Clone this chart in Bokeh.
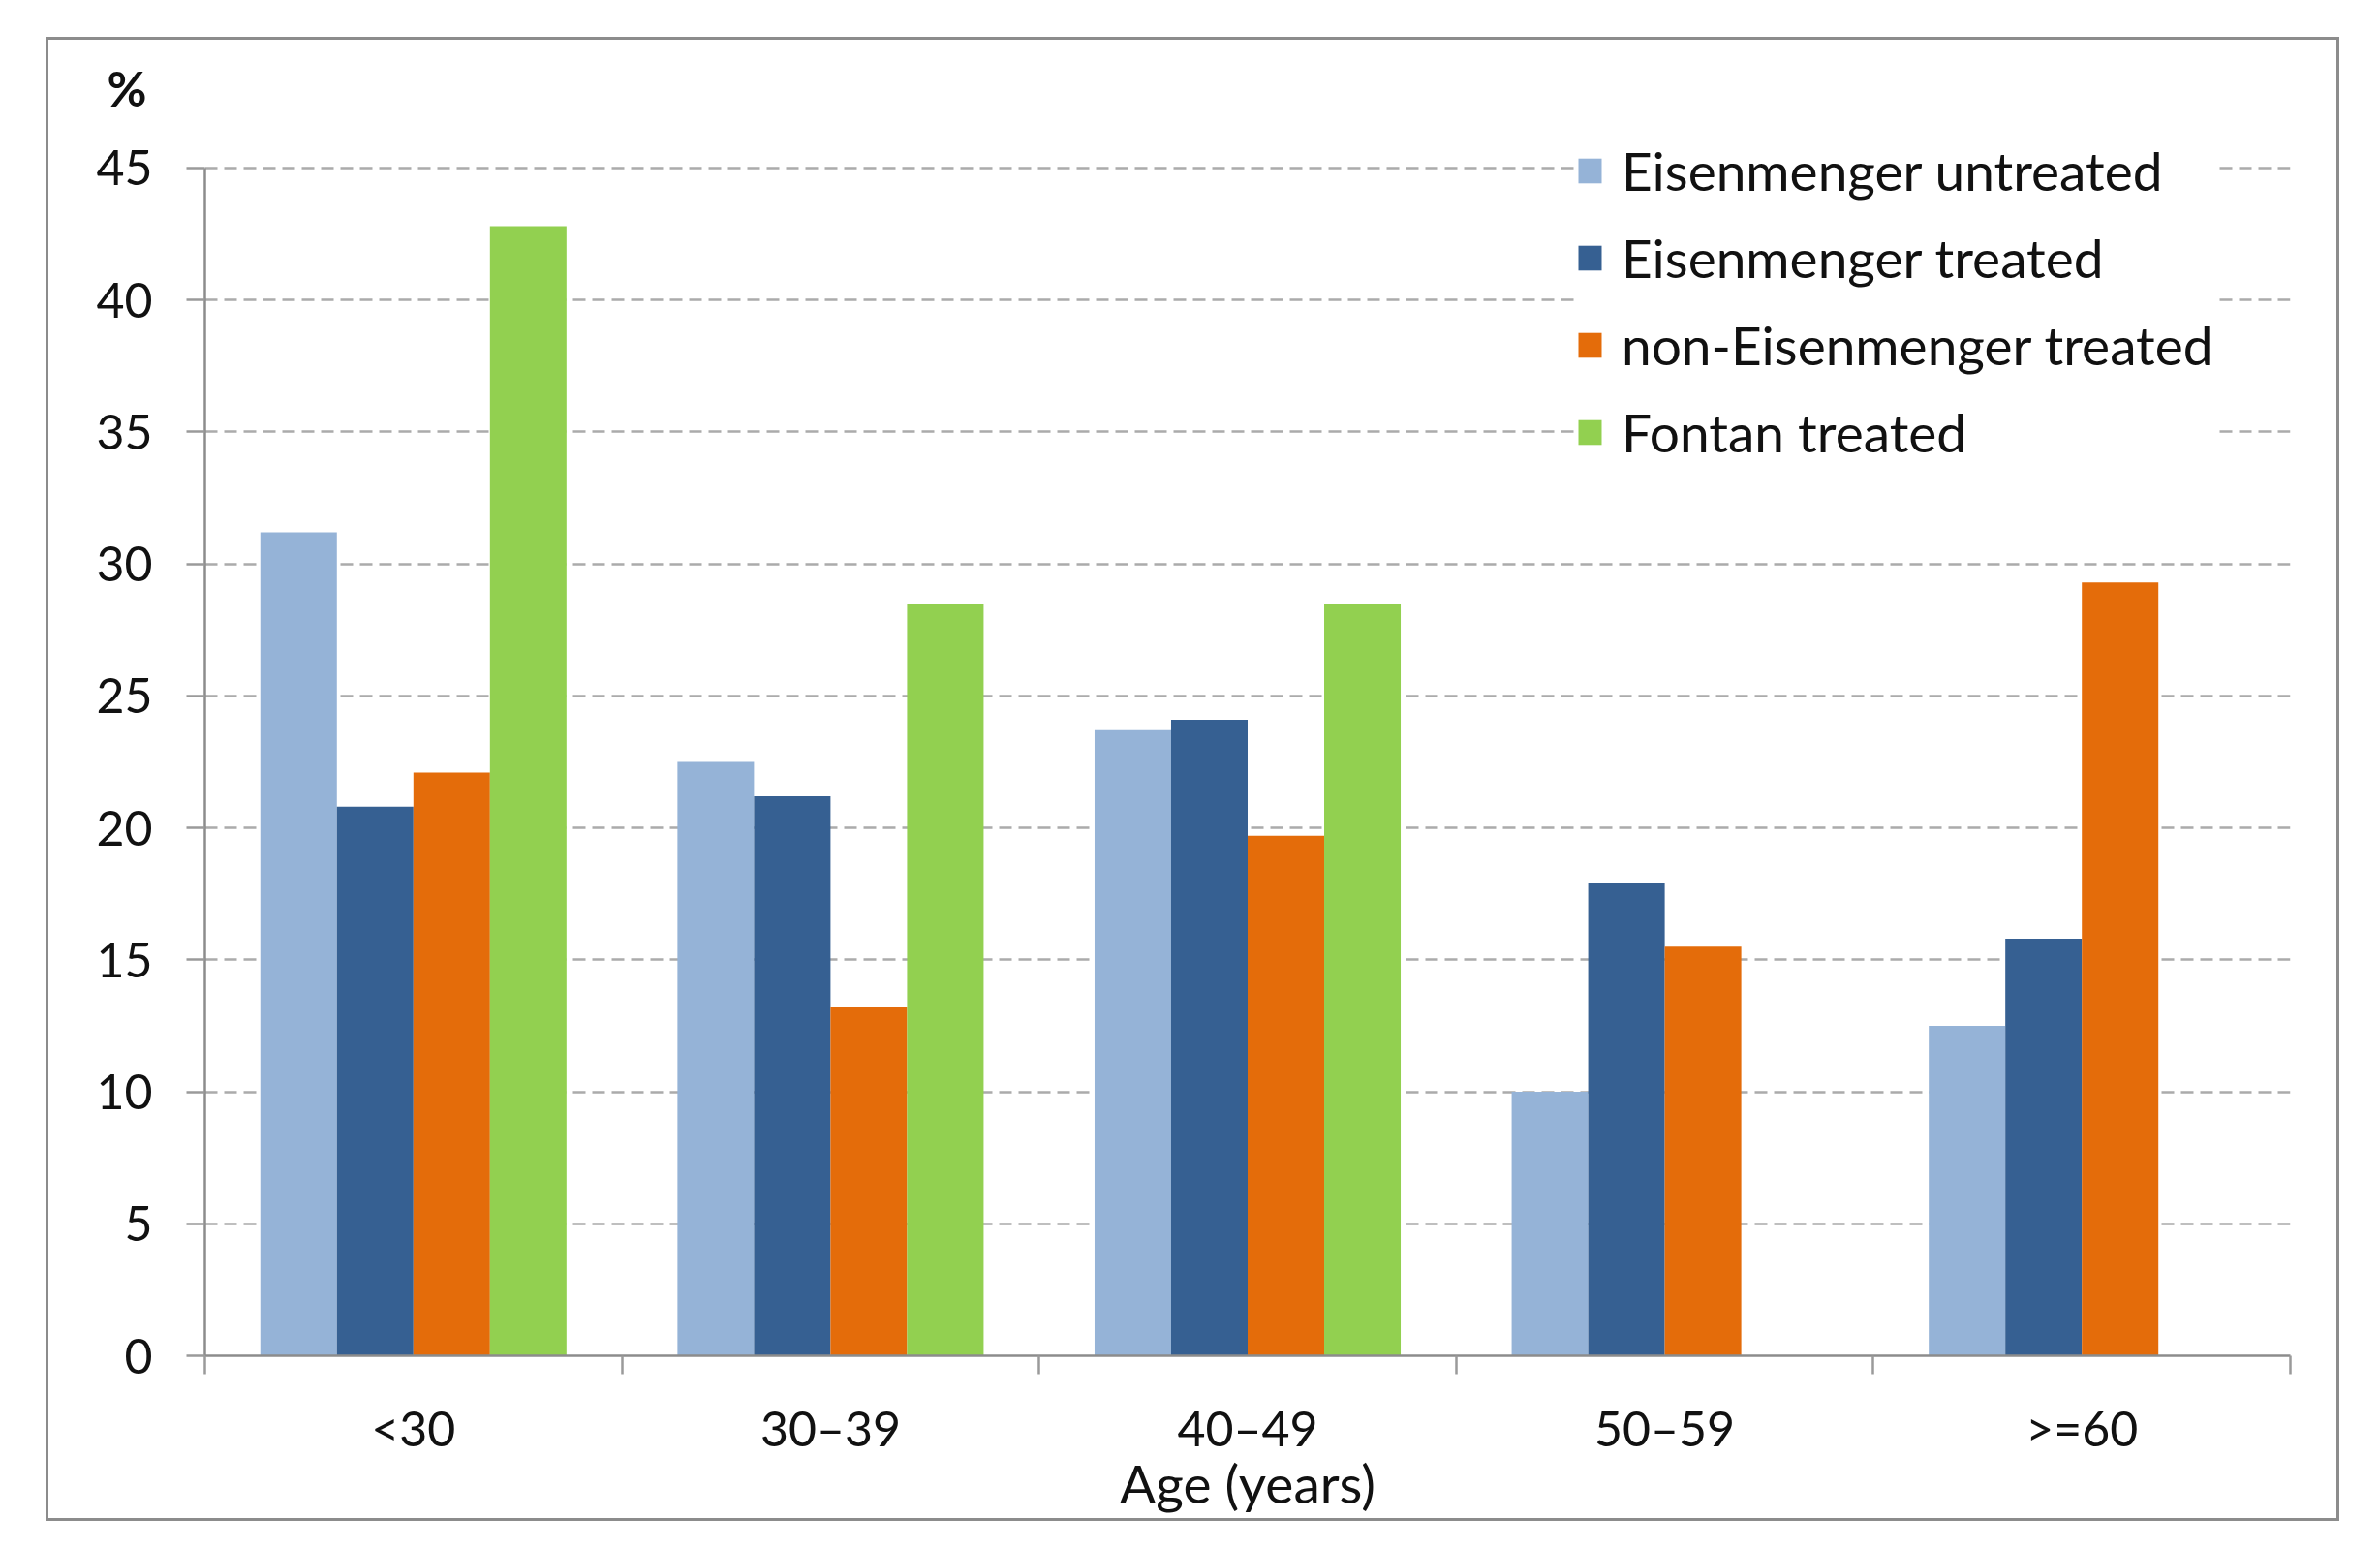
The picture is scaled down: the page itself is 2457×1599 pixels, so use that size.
import numpy as np
from bokeh.plotting import figure
from bokeh.models import (Range1d, FixedTicker, Legend, LegendItem, Title,
                          ColumnDataSource)
from bokeh.embed import file_html
from bokeh.resources import INLINE

# ---- data ----
categories = ["<30", "30\u201339", "40\u201349", "50\u201359", ">=60"]
series_names = ["Eisenmenger untreated", "Eisenmenger treated",
                "non-Eisenmenger treated", "Fontan treated"]
eis_untreated = [31.2, 22.5, 23.7, 10.0, 12.5]
eis_treated = [20.8, 21.2, 24.1, 17.9, 15.8]
non_eis_treated = [22.1, 13.2, 19.7, 15.5, 29.3]
fontan_treated = [42.8, 28.5, 28.5, 0.0, 0.0]
y_ticks = [0, 5, 10, 15, 20, 25, 30, 35, 40, 45]
colors = ["#95B3D7", "#366092", "#E46C0A", "#92D050"]

FONT = "Lato"

p = figure(width=2368, height=1532, x_range=Range1d(0, len(categories)),
           y_range=Range1d(0, 46.32), output_backend="svg", toolbar_location=None,
           min_border_left=161, min_border_right=54, min_border_top=87,
           min_border_bottom=174)
p.styles = {"border": "3px solid #8c8c8c", "position": "absolute",
            "left": "47px", "top": "38px"}
p.outline_line_color = None
p.background_fill_color = "white"
p.border_fill_color = "white"

series = [eis_untreated, eis_treated, non_eis_treated, fontan_treated]
bar_w = 0.1835
offsets = (np.arange(4) - 1.5) * bar_w
idx = np.arange(len(categories))
renderers = []
for k, vals in enumerate(series):
    src = ColumnDataSource(dict(x=idx + 0.5 + offsets[k], top=vals))
    r = p.vbar(x="x", top="top", bottom=0, width=bar_w, source=src,
               fill_color=colors[k], line_color=None)
    renderers.append(r)

# y axis
p.yaxis.ticker = FixedTicker(ticks=y_ticks)
p.yaxis.bounds = (y_ticks[0], y_ticks[-1])
p.yaxis.axis_line_color = "#8c8c8c"
p.yaxis.axis_line_width = 2.5
p.yaxis.major_tick_line_color = "#9a9a9a"
p.yaxis.major_tick_line_width = 2.5
p.yaxis.major_tick_in = 0
p.yaxis.major_tick_out = 19
p.yaxis.minor_tick_line_color = None
p.yaxis.major_label_text_font = FONT
p.yaxis.major_label_text_font_size = "50px"
p.yaxis.major_label_text_color = "#111111"
p.yaxis.major_label_standoff = 35

# x axis: labels at category centres, tick marks at boundaries
p.xaxis.ticker = FixedTicker(ticks=list(idx + 0.5),
                             minor_ticks=list(range(len(categories) + 1)))
p.xaxis.major_label_overrides = {float(i + 0.5): c for i, c in enumerate(categories)}
p.xaxis.axis_line_color = "#8c8c8c"
p.xaxis.axis_line_width = 2.5
p.xaxis.major_tick_line_color = None
p.xaxis.major_tick_in = 0
p.xaxis.major_tick_out = 19
p.xaxis.minor_tick_line_color = "#9a9a9a"
p.xaxis.minor_tick_line_width = 2.5
p.xaxis.minor_tick_in = 0
p.xaxis.minor_tick_out = 19
p.xaxis.major_label_text_font = FONT
p.xaxis.major_label_text_font_size = "50px"
p.xaxis.major_label_text_color = "#111111"
p.xaxis.major_label_standoff = 25
p.xaxis.axis_label = "Age (years)"
p.xaxis.axis_label_text_font = FONT
p.xaxis.axis_label_text_font_size = "55px"
p.xaxis.axis_label_text_font_style = "normal"
p.xaxis.axis_label_text_color = "#111111"
p.xaxis.axis_label_standoff = -9

p.xgrid.visible = False
p.ygrid.grid_line_color = "#ababab"
p.ygrid.grid_line_width = 2.5
p.ygrid.grid_line_dash = "13 7"

# "%" unit label above the y axis
p.add_layout(Title(text="%", align="left", offset=-101, standoff=34,
                   text_font=FONT, text_font_size="50px",
                   text_font_style="bold", text_color="#111111"), "above")

legend = Legend(items=[LegendItem(label=n, renderers=[r])
                       for n, r in zip(series_names, renderers)],
                location=(1415, 920), glyph_width=30, glyph_height=32,
                label_standoff=18, label_text_font=FONT,
                label_text_font_size="55px", label_text_color="#111111",
                padding=14, spacing=24, margin=0, border_line_color=None,
                background_fill_color="white", background_fill_alpha=1.0)
p.add_layout(legend)

open("out.html", "w").write(file_html(p, INLINE))
